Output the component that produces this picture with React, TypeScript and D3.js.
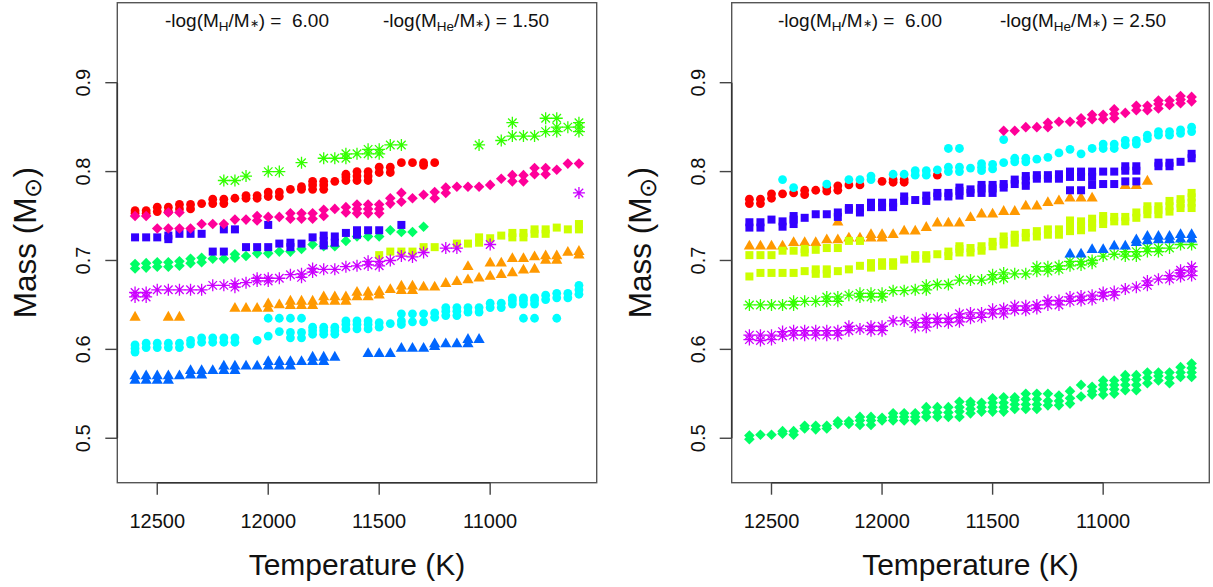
import React from 'react';
import * as d3 from 'd3';

// ---------- DATA (temperature K, then mass values in solar masses) ----------
// Left panel: -log(MHe/M*) = 1.50
const redL = [[12600,.753,.756],[12550,.753,.756],[12500,.755,.76],[12450,.755,.76],[12400,.758,.763],[12350,.758,.763],[12300,.764],[12250,.764,.769],[12200,.764,.769],[12150,.77],[12100,.77,.773],[12050,.77,.773],[12000,.772,.777],[11950,.772,.777],[11900,.78],[11850,.78,.783],[11800,.78,.785,.789],[11750,.78,.785,.789],[11700,.789],[11650,.79,.794,.797],[11600,.79,.795,.8],[11550,.79,.795,.8],[11500,.799,.805],[11450,.799,.805],[11400,.81],[11350,.81],[11300,.807,.81],[11250,.81]];
const orangeL = [[12600,.636],[12450,.636],[12400,.636],[12150,.646],[12100,.646],[12050,.646],[12000,.646,.651],[11950,.65],[11900,.649,.654],[11850,.649,.654],[11800,.649,.654],[11750,.654,.659],[11700,.654,.659],[11650,.654,.659],[11600,.659,.664],[11550,.659,.664],[11500,.661,.665],[11450,.667],[11400,.666,.671],[11350,.666,.671],[11300,.67],[11250,.67],[11200,.674],[11150,.676],[11100,.678,.693],[11050,.68],[11000,.682,.697],[10950,.684,.697],[10900,.686,.702],[10850,.689,.702],[10800,.69,.704],[10750,.7,.705],[10700,.7,.705],[10650,.709],[10600,.706,.71]];
const yellowL = [[11500,.706],[11450,.71],[11400,.71],[11350,.71],[11300,.715],[11250,.715],[11150,.719],[11100,.719],[11050,.72,.726],[11000,.725],[10950,.728],[10900,.726,.731],[10850,.726,.731],[10800,.73,.735],[10750,.73,.735],[10700,.737],[10650,.735],[10600,.735,.741]];
const greenAstL = [[12200,.79],[12150,.79],[12100,.795],[12000,.8],[11950,.8],[11850,.81],[11750,.815],[11700,.815],[11650,.815,.82],[11600,.82],[11550,.82,.825],[11500,.82,.825],[11450,.83],[11400,.83],[11050,.83],[10950,.835],[10900,.84,.855],[10850,.84],[10800,.84],[10750,.845,.86],[10700,.845,.85,.86],[10650,.85],[10600,.845,.85,.855]];
const springL = [[12600,.691,.696],[12550,.692,.697],[12500,.693,.698],[12450,.693,.698],[12400,.694,.699],[12350,.697,.702],[12300,.698,.703],[12250,.702],[12200,.702],[12150,.703,.707],[12100,.705],[12050,.708],[12000,.708],[11950,.71],[11900,.71],[11850,.713],[11800,.718],[11750,.716],[11700,.716],[11650,.722],[11600,.727],[11550,.727],[11500,.727],[11450,.734],[11400,.732],[11350,.732],[11300,.738]];
const cyanL = [[12600,.597,.601,.605],[12550,.602,.607],[12500,.602,.607],[12450,.602,.607],[12400,.602,.607],[12350,.606,.61],[12300,.608,.613],[12250,.608,.613],[12200,.608,.613],[12150,.608,.613],[12050,.61],[12000,.615,.635],[11950,.62,.635],[11900,.613,.619,.635],[11850,.613,.619,.635],[11800,.617,.621,.625],[11750,.617,.621,.625],[11700,.617,.621,.625],[11650,.623,.628,.632],[11600,.623,.628,.632],[11550,.623,.628,.632],[11500,.625,.63],[11450,.629],[11400,.628,.632,.64],[11350,.631,.64],[11300,.631,.64],[11250,.636,.641],[11200,.638,.643,.647],[11150,.638,.643,.647],[11100,.642,.647],[11050,.642,.647],[11000,.647,.652],[10950,.647,.652],[10900,.651,.655,.658],[10850,.635,.651,.655,.658],[10800,.635,.651,.655,.658],[10750,.656,.661],[10700,.635,.658,.663],[10650,.658,.663],[10600,.662,.667,.672]];
const blueTriL = [[12600,.565,.57],[12550,.565,.57],[12500,.565,.57],[12450,.565,.57],[12400,.57],[12350,.571,.576],[12300,.571,.576],[12250,.576],[12200,.576,.581],[12150,.576,.581],[12100,.581],[12050,.581],[12000,.581,.586],[11950,.581,.586],[11900,.581,.586],[11850,.586],[11800,.586,.591],[11750,.586,.591],[11700,.591],[11550,.595],[11500,.595],[11450,.595],[11400,.601],[11350,.601],[11300,.601],[11250,.603,.606],[11200,.606],[11150,.606],[11100,.606,.611],[11050,.611]];
const indigoL = [[12600,.726],[12550,.726],[12500,.726],[12450,.724,.728],[12400,.73],[12350,.73],[12300,.73],[12250,.71],[12200,.71,.735],[12150,.735],[12100,.715],[12050,.715],[12000,.715,.74],[11950,.719],[11900,.715,.72],[11850,.719],[11800,.726],[11750,.717,.722,.728],[11700,.72,.727],[11650,.731],[11600,.729,.734],[11550,.734],[11500,.734],[11400,.74]];
const purpleL = [[12600,.659,.664],[12550,.659,.664],[12500,.667],[12450,.667],[12400,.667],[12350,.667],[12300,.667],[12250,.672],[12200,.672],[12150,.67,.674],[12100,.675],[12050,.677,.68],[12000,.677,.68],[11950,.68],[11900,.684],[11850,.681,.685],[11800,.687,.691],[11750,.69],[11700,.69],[11650,.693],[11600,.694],[11550,.695,.699],[11500,.694,.699],[11450,.7],[11400,.705],[11350,.704],[11300,.709],[11200,.714],[11150,.714],[11000,.718],[10600,.776]];
const pinkL = [[12600,.75],[12550,.75],[12500,.736],[12450,.736,.754],[12400,.736,.754],[12350,.736],[12300,.741],[12250,.741],[12200,.741],[12150,.746],[12100,.746],[12050,.745,.75],[12000,.749],[11950,.749],[11900,.747,.753],[11850,.747,.753],[11800,.747,.753],[11750,.75,.757],[11700,.758],[11650,.754,.76],[11600,.753,.758,.763],[11550,.753,.758,.763],[11500,.753,.758,.763],[11450,.764,.77],[11400,.766,.776],[11350,.77],[11300,.774],[11250,.77,.777],[11200,.776,.782],[11150,.783],[11100,.783],[11050,.783],[11000,.785],[10950,.792],[10900,.789,.796],[10850,.789,.796],[10800,.797,.804],[10750,.797,.804],[10700,.802],[10650,.809],[10600,.809]];

// Right panel: -log(MHe/M*) = 2.50
const redR = [[12600,.764,.769],[12550,.764,.769],[12500,.77,.775],[12450,.775],[12400,.776],[12350,.774,.779],[12300,.779],[12250,.778,.782],[12200,.779,.784],[12150,.785],[12100,.785],[12000,.789],[11950,.788,.791],[11900,.788,.791],[11750,.796]];
const orangeR = [[12600,.716],[12550,.716],[12500,.716],[12450,.716],[12400,.72],[12350,.72],[12300,.72],[12250,.723],[12200,.723,.743],[12150,.725],[12100,.725],[12050,.725,.729],[12000,.725,.729],[11950,.729],[11900,.733],[11850,.733],[11800,.737],[11750,.742],[11700,.742],[11650,.742],[11600,.748],[11550,.752],[11500,.752],[11450,.755],[11400,.755],[11350,.761],[11300,.761],[11250,.765],[11200,.767],[11150,.77],[11100,.77],[11050,.77],[10900,.784],[10850,.784],[10800,.789]];
const yellowR = [[12600,.682,.706],[12550,.686,.706],[12500,.686,.706],[12450,.686,.711],[12400,.686,.711],[12350,.688,.709,.713],[12300,.685,.69,.712],[12250,.685,.69,.714],[12200,.688,.714],[12150,.69,.722],[12100,.694,.722],[12050,.692,.697],[12000,.694,.698],[11950,.694,.698],[11900,.701],[11850,.702,.706],[11800,.702,.706],[11750,.707],[11700,.705,.71],[11650,.709,.713,.716],[11600,.709,.714],[11550,.711,.716],[11500,.716,.721],[11450,.718,.722,.727],[11400,.72,.725,.729],[11350,.726,.731],[11300,.727,.733],[11250,.729,.735],[11200,.729,.735],[11150,.733,.739,.745],[11100,.734,.739,.744],[11050,.737,.742,.747],[11000,.741,.746,.75],[10950,.744,.749],[10900,.744,.749],[10850,.748,.754],[10800,.752,.757,.761],[10750,.752,.757,.761],[10700,.755,.761,.767],[10650,.759,.764,.769],[10600,.759,.765,.771,.776]];
const greenAstR = [[12600,.65],[12550,.65],[12500,.65],[12450,.65],[12400,.65,.654],[12350,.654],[12300,.654],[12250,.654,.659],[12200,.654,.659],[12150,.661],[12100,.659,.663],[12050,.659,.663],[12000,.659,.663],[11950,.666],[11900,.666],[11850,.667],[11800,.667,.672],[11750,.673],[11700,.673],[11650,.678],[11600,.678],[11550,.678],[11500,.679,.684],[11450,.68,.686],[11400,.685],[11350,.685],[11300,.688,.693],[11250,.688,.693],[11200,.69,.694],[11150,.694,.699],[11100,.695,.699],[11050,.697,.7],[11000,.705],[10950,.707],[10900,.705,.71],[10850,.705,.71],[10800,.71,.714],[10750,.71,.714],[10700,.714],[10650,.718],[10600,.718]];
const springR = [[12600,.499,.503],[12550,.504],[12500,.504],[12450,.505,.508],[12400,.504,.508],[12350,.511,.514],[12300,.51,.514],[12250,.511,.514],[12200,.516,.519],[12150,.516,.519],[12100,.515,.52,.524],[12050,.515,.52,.524],[12000,.52,.523],[11950,.52,.524,.528],[11900,.52,.524,.528],[11850,.52,.524,.528],[11800,.524,.529,.535],[11750,.524,.529,.535],[11700,.524,.529,.535],[11650,.524,.53,.535,.541],[11600,.528,.533,.538,.541],[11550,.53,.535,.54],[11500,.53,.535,.54,.545],[11450,.53,.535,.54,.546],[11400,.533,.538,.543,.546],[11350,.533,.538,.544,.55],[11300,.533,.538,.544,.55],[11250,.537,.542,.55],[11200,.537,.542,.548],[11150,.539,.545,.553],[11100,.547,.56],[11050,.549,.553,.558],[11000,.549,.555,.56,.565],[10950,.55,.555,.56,.565],[10900,.554,.56,.566,.571],[10850,.554,.56,.566,.571],[10800,.562,.568,.574],[10750,.565,.57,.574],[10700,.562,.568,.574],[10650,.569,.574,.58],[10600,.569,.574,.579,.584]];
const cyanR = [[12450,.791],[12400,.782],[12250,.786],[12150,.791],[12100,.791],[12050,.791,.795],[11950,.797],[11900,.797],[11850,.796,.801],[11800,.796,.801],[11750,.802],[11700,.8,.805,.826],[11650,.8,.805,.826],[11600,.804],[11550,.801,.805,.809],[11500,.803,.808],[11450,.81,.836],[11400,.811,.815],[11350,.811,.815],[11300,.814],[11250,.816],[11200,.821],[11150,.825],[11100,.82],[11050,.826],[11000,.826,.831],[10950,.826,.831],[10900,.83,.835],[10850,.831,.835],[10800,.837,.841],[10750,.841,.845],[10700,.841,.845],[10650,.843,.847],[10600,.845,.85]];
const blueTriR = [[11150,.707],[11100,.707],[11050,.712],[11000,.712],[10950,.716],[10900,.716],[10850,.72,.723],[10800,.722,.727],[10750,.723,.727],[10700,.723,.727],[10650,.724,.729],[10600,.724,.729]];
const indigoR = [[12600,.737,.743],[12550,.737,.743],[12500,.746],[12450,.738,.744],[12400,.741,.746,.75],[12350,.748],[12300,.752],[12250,.752],[12200,.749,.754],[12150,.757,.759],[12100,.754,.759],[12050,.76,.765],[12000,.76,.765],[11950,.76,.765],[11900,.767,.772],[11850,.768],[11800,.767,.773],[11750,.772,.776],[11700,.772,.776],[11650,.773,.778,.782],[11600,.776,.78],[11550,.776,.781,.785],[11500,.776,.781,.785],[11450,.782,.786],[11400,.786,.791],[11350,.784,.79,.795],[11300,.792,.796],[11250,.792,.796],[11200,.792,.797],[11150,.779,.794,.8],[11100,.779,.794,.8],[11050,.785,.794,.8],[11000,.786,.8],[10950,.786,.8],[10900,.789,.801,.806],[10850,.789,.801,.806],[10750,.806,.81],[10700,.806,.81],[10650,.811],[10600,.815,.82]];
const purpleR = [[12600,.611,.616],[12550,.61,.616],[12500,.611,.616],[12450,.615,.62],[12400,.616,.621],[12350,.616,.621],[12300,.616,.621],[12250,.616,.621],[12200,.616,.621],[12150,.621,.626],[12100,.623],[12050,.621,.626],[12000,.621,.626],[11950,.632],[11900,.632],[11850,.625,.63],[11800,.625,.63,.635],[11750,.63,.635],[11700,.63,.635],[11650,.631,.636,.64],[11600,.635,.641],[11550,.636,.641],[11500,.64,.645],[11450,.64,.646],[11400,.644,.649],[11350,.644,.649],[11300,.646,.65],[11250,.65,.655],[11200,.65,.655],[11150,.654,.659],[11100,.655,.66],[11050,.656,.661],[11000,.66,.664],[10950,.661,.665],[10900,.668],[10850,.67],[10800,.672,.677],[10750,.679],[10700,.679,.683],[10650,.682,.686,.689],[10600,.683,.688,.693]];
const pinkR = [[11450,.846],[11400,.846],[11350,.85],[11300,.85],[11250,.85,.855],[11200,.856],[11150,.856],[11100,.855,.86],[11050,.859,.864],[11000,.859,.864],[10950,.86,.865,.87],[10900,.866],[10850,.869,.874],[10800,.869,.874],[10750,.871,.876,.88],[10700,.875,.88],[10650,.877,.881,.885],[10600,.879,.884]];

// series styles (R rainbow(10) with pch cycle 16,17,15,8,18)
const colors = ['#FF0000','#FF9900','#CCFF00','#33FF00','#00FF66','#00FFFF','#0066FF','#3300FF','#CC00FF','#FF0099'];
const shapes = ['circle','triangle','square','asterisk','diamond','circle','triangle','square','asterisk','diamond'];
const leftSeries = [redL, orangeL, yellowL, greenAstL, springL, cyanL, blueTriL, indigoL, purpleL, pinkL];
const rightSeries = [redR, orangeR, yellowR, greenAstR, springR, cyanR, blueTriR, indigoR, purpleR, pinkR];

const xTicks = [12500, 12000, 11500, 11000];
const yTicks = [0.5, 0.6, 0.7, 0.8, 0.9];
const xDomain = [12680, 10520];
const yDomain = [0.45, 0.99];
const hValue = '6.00';
const heValues = ['1.50', '2.50'];

const FONT = '"Liberation Sans", Arial, Helvetica, sans-serif';
const TOP = 2.7, BOTTOM = 482.7;

function Marker({ shape, x, y, color }: { shape: string; x: number; y: number; color: string }) {
  if (shape === 'circle') return <circle cx={x} cy={y} r={4.4} fill={color} />;
  if (shape === 'square') return <rect x={x - 4} y={y - 4} width={8} height={8} fill={color} />;
  if (shape === 'triangle')
    return <polygon points={`${x},${y - 6.5} ${x + 5.6},${y + 3.3} ${x - 5.6},${y + 3.3}`} fill={color} />;
  if (shape === 'diamond')
    return <polygon points={`${x},${y - 5.3} ${x + 5.3},${y} ${x},${y + 5.3} ${x - 5.3},${y}`} fill={color} />;
  const a = 6, b = 4.25;
  return (
    <path
      d={`M${x - a},${y}h${2 * a}M${x},${y - a}v${2 * a}M${x - b},${y - b}l${2 * b},${2 * b}M${x - b},${y + b}l${2 * b},${-2 * b}`}
      stroke={color}
      strokeWidth={1.3}
      fill="none"
    />
  );
}

function Panel({ left, right, series, he, h1x, h2x }: any) {
  const x = d3.scaleLinear().domain(xDomain).range([left, right]);
  const y = d3.scaleLinear().domain(yDomain).range([BOTTOM, TOP]);
  const cx = (left + right) / 2;
  const cy = (TOP + BOTTOM) / 2;
  return (
    <g fontFamily={FONT}>
      {series.map((data: number[][], si: number) => (
        <g key={si}>
          {data.flatMap((row, ri) =>
            row.slice(1).map((m, mi) => (
              <Marker key={`${ri}-${mi}`} shape={shapes[si]} x={x(row[0])} y={y(m)} color={colors[si]} />
            ))
          )}
        </g>
      ))}
      <rect x={left} y={TOP} width={right - left} height={BOTTOM - TOP} fill="none" stroke="#555" strokeWidth={1.4} />
      <line x1={x(xTicks[0])} x2={x(xTicks[xTicks.length - 1])} y1={BOTTOM} y2={BOTTOM} stroke="#333" strokeWidth={1.6} />
      <line y1={y(yTicks[0])} y2={y(yTicks[yTicks.length - 1])} x1={left} x2={left} stroke="#333" strokeWidth={1.6} />
      {xTicks.map((t) => (
        <g key={t}>
          <line x1={x(t)} x2={x(t)} y1={BOTTOM} y2={BOTTOM + 12} stroke="#444" strokeWidth={1.4} />
          <text x={x(t)} y={528} textAnchor="middle" fontSize={20} fill="#111">{t}</text>
        </g>
      ))}
      {yTicks.map((t) => (
        <g key={t}>
          <line x1={left - 12} x2={left} y1={y(t)} y2={y(t)} stroke="#444" strokeWidth={1.4} />
          <text transform={`translate(${left - 27},${y(t)}) rotate(-90)`} textAnchor="middle" fontSize={20} fill="#111">
            {t.toFixed(1)}
          </text>
        </g>
      ))}
      <text x={cx} y={575} textAnchor="middle" fontSize={30} fill="#111">Temperature (K)</text>
      <text transform={`translate(${left - 81},${cy}) rotate(-90)`} textAnchor="middle" fontSize={31.5} fill="#111">
        Mass (M<tspan fontSize={24} dy={5}>⊙</tspan><tspan dy={-5}>)</tspan>
      </text>
      <text x={h1x} y={26.5} fontSize={19} fill="#111" style={{ whiteSpace: 'pre' }}>
        -log(M<tspan fontSize={13.5} dy={4}>H</tspan><tspan dy={-4}>/M</tspan><tspan fontSize={11}>∗</tspan>
        <tspan>{`) =  ${hValue}`}</tspan>
      </text>
      <text x={h2x} y={26.5} fontSize={19} fill="#111" style={{ whiteSpace: 'pre' }}>
        -log(M<tspan fontSize={13.5} dy={4}>He</tspan><tspan dy={-4}>/M</tspan><tspan fontSize={11}>∗</tspan>
        <tspan>{`) = ${he}`}</tspan>
      </text>
    </g>
  );
}

export default function App() {
  return (
    <svg width={1213} height={587} style={{ position: 'absolute', left: 0, top: 0, background: '#fff' }}>
      <rect width={1213} height={587} fill="#fff" />
      <Panel left={117.3} right={596.7} series={leftSeries} he={heValues[0]} h1x={165} h2x={383} />
      <Panel left={731.7} right={1209.3} series={rightSeries} he={heValues[1]} h1x={778} h2x={1000} />
    </svg>
  );
}
